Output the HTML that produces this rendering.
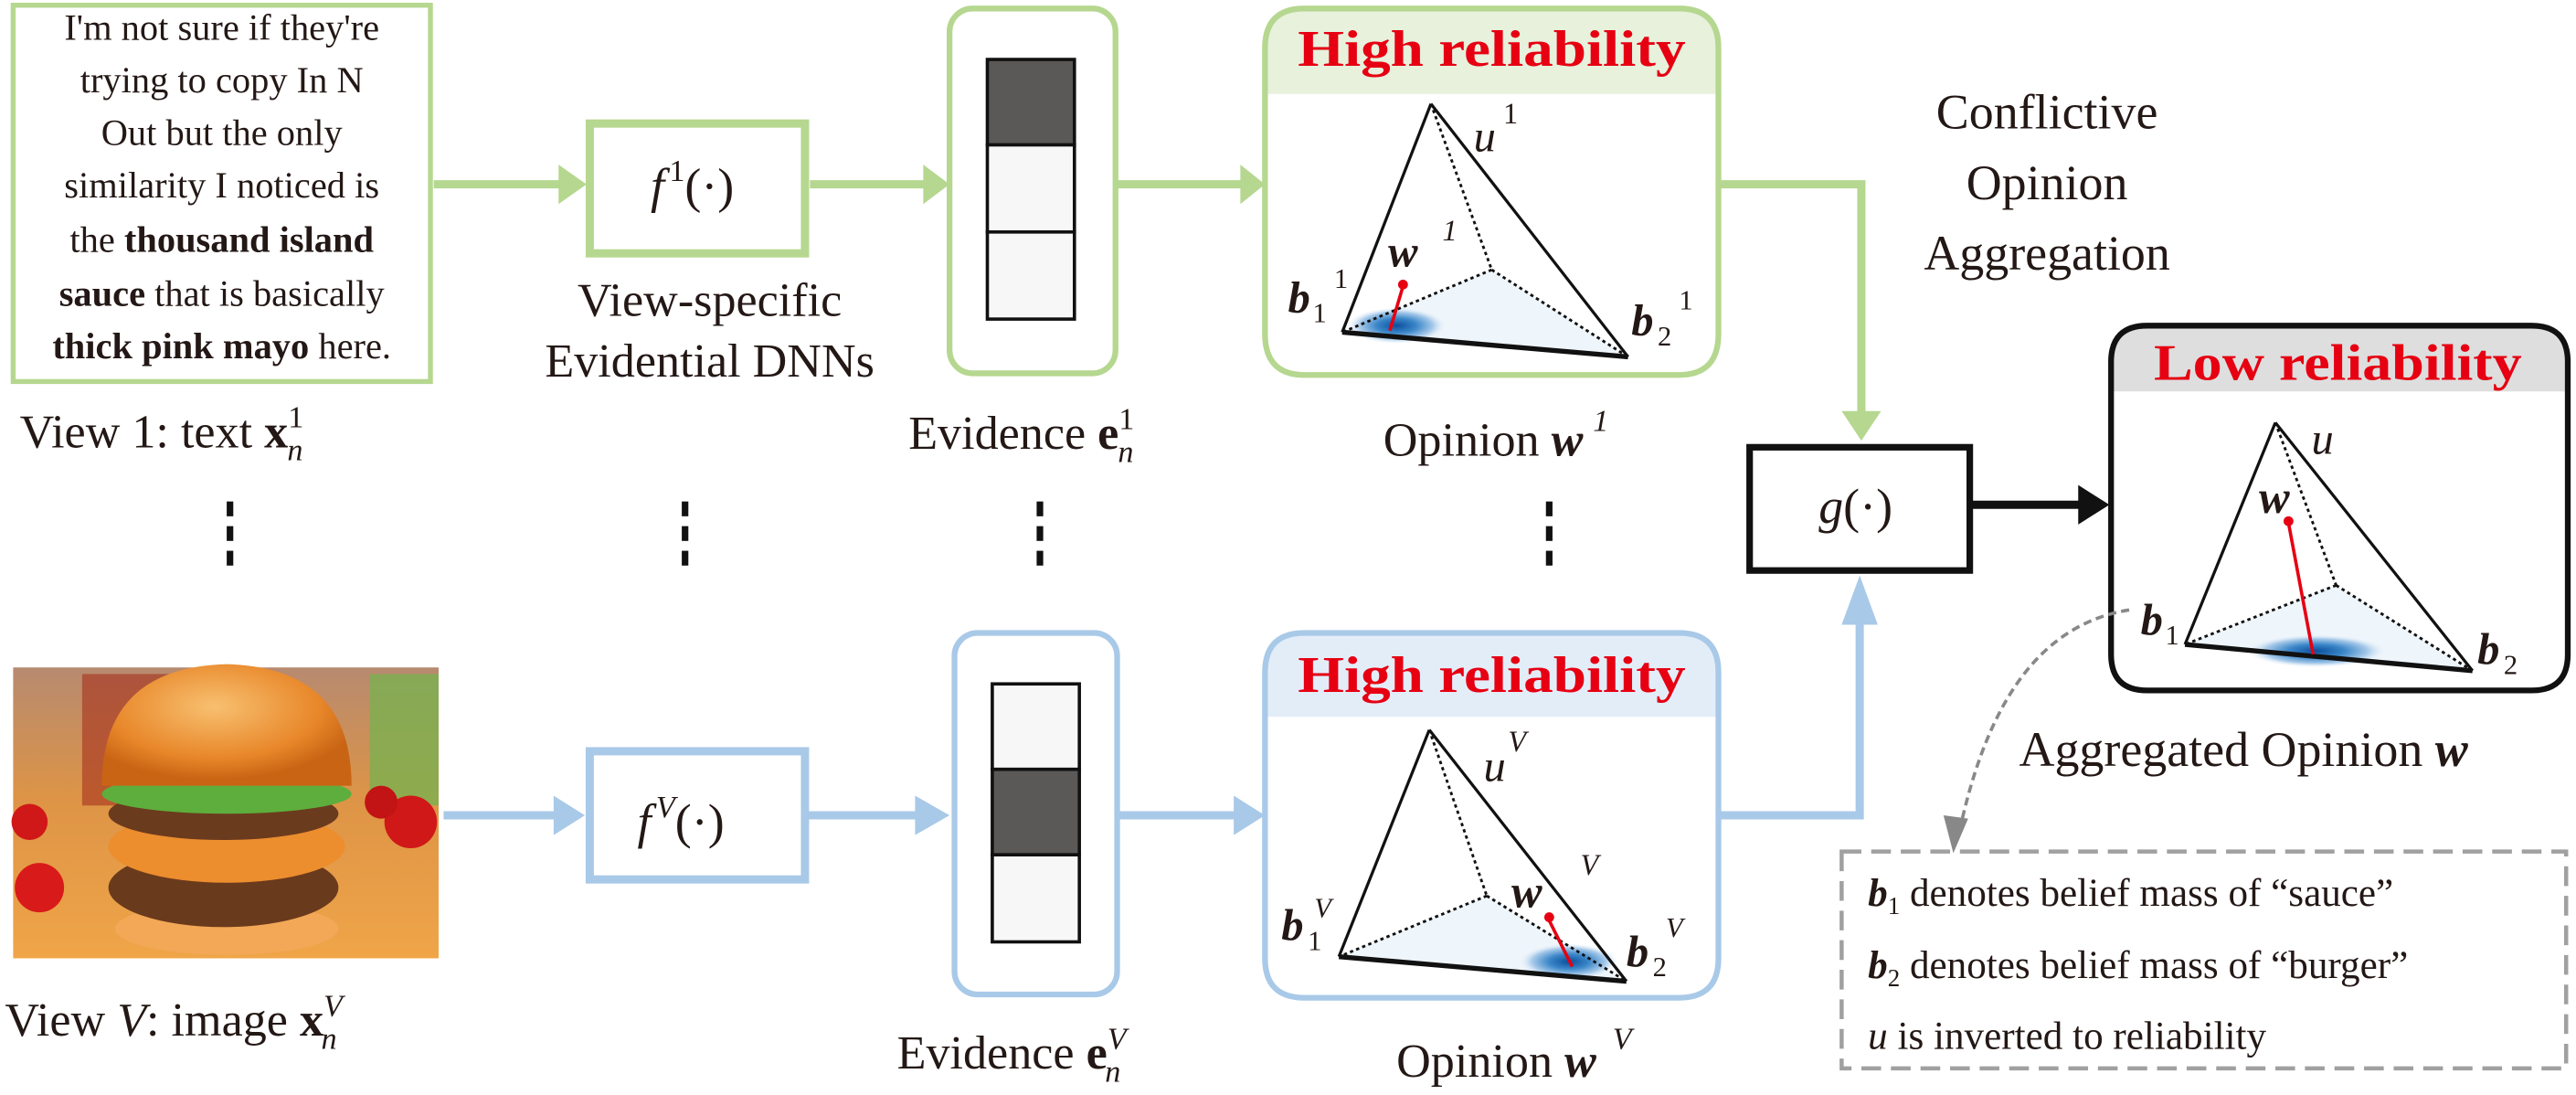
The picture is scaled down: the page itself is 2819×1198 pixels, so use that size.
<!DOCTYPE html>
<html><head><meta charset="utf-8"><style>
html,body{margin:0;padding:0;background:#fff;}
svg{display:block;}
svg text{font-family:"Liberation Serif","Times New Roman","DejaVu Serif",serif;fill:#231815;}
.it{font-style:italic;}
</style></head><body>
<svg width="2819" height="1198" viewBox="0 0 1568 666" xmlns="http://www.w3.org/2000/svg" font-family="Liberation Serif, Times New Roman, serif">
<defs>
<radialGradient id="blob" cx="0.5" cy="0.5" r="0.5">
<stop offset="0" stop-color="#0b4f9c"/><stop offset="0.4" stop-color="#3a86c8"/><stop offset="0.75" stop-color="#a9cbea"/><stop offset="1" stop-color="#eaf3fb" stop-opacity="0"/>
</radialGradient>
<radialGradient id="bun" cx="0.45" cy="0.35" r="0.6">
<stop offset="0" stop-color="#f8c070"/><stop offset="0.7" stop-color="#e8872a"/><stop offset="1" stop-color="#c96414"/>
</radialGradient>
<linearGradient id="bg" x1="0" y1="0" x2="0" y2="1">
<stop offset="0" stop-color="#b78a70"/><stop offset="0.45" stop-color="#dd9446"/><stop offset="1" stop-color="#f0a548"/>
</linearGradient>
</defs>
<g font-family="Liberation Serif, Times New Roman, serif">

<!-- Text box view 1 -->
<rect x="8" y="3" width="254" height="229" fill="#fff" stroke="#b5d78f" stroke-width="3"/>
<g font-size="22.5" text-anchor="middle">
<text x="135" y="24">I'm not sure if they're</text>
<text x="135" y="56">trying to copy In N</text>
<text x="135" y="88">Out but the only</text>
<text x="135" y="120">similarity I noticed is</text>
<text x="135" y="153">the <tspan font-weight="bold">thousand island</tspan></text>
<text x="135" y="186"><tspan font-weight="bold">sauce</tspan> that is basically</text>
<text x="135" y="218"><tspan font-weight="bold">thick pink mayo</tspan> here.</text>
</g>
<text x="12" y="272" font-size="29">View 1: text <tspan font-weight="bold">x</tspan><tspan font-size="19" dy="-12">1</tspan><tspan class="it" font-size="19" dx="-10" dy="20">n</tspan></text>

<!-- green arrows -->
<g stroke="#b5d78f" stroke-width="5" fill="#b5d78f">
<line x1="264" y1="112" x2="345" y2="112"/>
<polygon points="340,100 357,112 340,124" stroke="none"/>
<line x1="493" y1="112" x2="565" y2="112"/>
<polygon points="562,100 578,112 562,124" stroke="none"/>
<line x1="680" y1="112" x2="758" y2="112"/>
<polygon points="755,100 770,112 755,124" stroke="none"/>
<polyline points="1046,112 1133,112 1133,252" fill="none"/>
<polygon points="1121,250 1133,268 1145,250" stroke="none"/>
</g>
<rect x="359" y="75" width="131" height="79" fill="#fff" stroke="#b5d78f" stroke-width="5"/>
<text x="396" y="123" font-size="30"><tspan class="it">f</tspan><tspan font-size="19" dx="3" dy="-13">1</tspan><tspan font-size="30" dy="13">(·)</tspan></text>
<g font-size="29" text-anchor="middle">
<text x="432" y="192">View-specific</text>
<text x="432" y="229">Evidential DNNs</text>
</g>

<!-- evidence 1 -->
<rect x="578" y="5" width="101" height="222" rx="14" fill="#fff" stroke="#b5d78f" stroke-width="3.5"/>
<rect x="601" y="36" width="53" height="52" fill="#5a5958" stroke="#111" stroke-width="2"/>
<rect x="601" y="88" width="53" height="53" fill="#f6f7f6" stroke="#111" stroke-width="2"/>
<rect x="601" y="141" width="53" height="53" fill="#f6f7f6" stroke="#111" stroke-width="2"/>
<text x="553" y="273" font-size="29">Evidence <tspan font-weight="bold">e</tspan><tspan font-size="19" dy="-12">1</tspan><tspan class="it" font-size="19" dx="-10" dy="20">n</tspan></text>

<!-- high reliability 1 -->
<path d="M794,5 H1022 Q1046,5 1046,29 V203 Q1046,228 1022,228 H794 Q770,228 770,203 V29 Q770,5 794,5 Z" fill="#fff"/>
<path d="M794,5 H1022 Q1046,5 1046,29 V57 H770 V29 Q770,5 794,5 Z" fill="#e7f1dc"/>
<path d="M794,5 H1022 Q1046,5 1046,29 V203 Q1046,228 1022,228 H794 Q770,228 770,203 V29 Q770,5 794,5 Z" fill="none" stroke="#b5d78f" stroke-width="3.5"/>
<text x="908" y="40" font-size="31" font-weight="bold" text-anchor="middle" style="fill:#e60012" textLength="236" lengthAdjust="spacingAndGlyphs">High reliability</text>
<polygon points="817,202 908,164 991,217" fill="#eef5fb"/>
<ellipse cx="850" cy="198" rx="30" ry="11" fill="url(#blob)"/>
<g stroke="#111" fill="none">
<line x1="871" y1="63" x2="817" y2="202" stroke-width="1.8"/>
<line x1="871" y1="63" x2="991" y2="217" stroke-width="1.8"/>
<line x1="817" y1="202" x2="991" y2="217" stroke-width="3"/>
<g stroke-dasharray="2,2" stroke-width="1.6">
<line x1="871" y1="63" x2="908" y2="164"/>
<line x1="908" y1="164" x2="817" y2="202"/>
<line x1="908" y1="164" x2="991" y2="217"/>
</g>
</g>
<line x1="854" y1="174" x2="846" y2="201" stroke="#e60012" stroke-width="2"/>
<circle cx="854" cy="173" r="3" fill="#e60012"/>
<text x="897" y="92" font-size="27" class="it">u</text><text x="915" y="75" font-size="18">1</text>
<text x="845" y="162" font-size="27" class="it" font-weight="bold">w</text><text x="878" y="146" font-size="18" class="it">1</text>
<text x="784" y="190" font-size="27" class="it" font-weight="bold">b</text><text x="799" y="196" font-size="17">1</text><text x="812" y="175" font-size="17">1</text>
<text x="993" y="204" font-size="27" class="it" font-weight="bold">b</text><text x="1009" y="210" font-size="17">2</text><text x="1022" y="188" font-size="17">1</text>
<text x="842" y="277" font-size="29">Opinion <tspan class="it" font-weight="bold">w</tspan><tspan class="it" font-size="19" dx="6" dy="-15">1</tspan></text>

<!-- conflictive -->
<g font-size="30" text-anchor="middle">
<text x="1246" y="78">Conflictive</text>
<text x="1246" y="121">Opinion</text>
<text x="1246" y="164">Aggregation</text>
</g>

<!-- vertical dots -->
<g fill="#111">
<rect x="138" y="305" width="4" height="9"/><rect x="138" y="320" width="4" height="9"/><rect x="138" y="335" width="4" height="9"/>
<rect x="415" y="305" width="4" height="9"/><rect x="415" y="320" width="4" height="9"/><rect x="415" y="335" width="4" height="9"/>
<rect x="631" y="305" width="4" height="9"/><rect x="631" y="320" width="4" height="9"/><rect x="631" y="335" width="4" height="9"/>
<rect x="941" y="305" width="4" height="9"/><rect x="941" y="320" width="4" height="9"/><rect x="941" y="335" width="4" height="9"/>
</g>

<!-- g box -->
<rect x="1065" y="272" width="134" height="75" fill="#fff" stroke="#111" stroke-width="4"/>
<text x="1107" y="318" font-size="30"><tspan class="it">g</tspan>(·)</text>
<line x1="1199" y1="307" x2="1268" y2="307" stroke="#111" stroke-width="5"/>
<polygon points="1265,295 1284,307 1265,319" fill="#111"/>

<!-- low reliability -->
<path d="M1307,198 H1541 Q1563,198 1563,220 V398 Q1563,420 1541,420 H1307 Q1285,420 1285,398 V220 Q1285,198 1307,198 Z" fill="#fff"/>
<path d="M1307,198 H1541 Q1563,198 1563,220 V238 H1285 V220 Q1285,198 1307,198 Z" fill="#dedede"/>
<path d="M1307,198 H1541 Q1563,198 1563,220 V398 Q1563,420 1541,420 H1307 Q1285,420 1285,398 V220 Q1285,198 1307,198 Z" fill="none" stroke="#111" stroke-width="3.5"/>
<text x="1423" y="231" font-size="31" font-weight="bold" text-anchor="middle" style="fill:#e60012" textLength="224" lengthAdjust="spacingAndGlyphs">Low reliability</text>
<polygon points="1330,392 1422,356 1505,408" fill="#eef5fb"/>
<ellipse cx="1410" cy="396" rx="42" ry="10" fill="url(#blob)"/>
<g stroke="#111" fill="none">
<line x1="1385" y1="257" x2="1330" y2="392" stroke-width="1.8"/>
<line x1="1385" y1="257" x2="1505" y2="408" stroke-width="1.8"/>
<line x1="1330" y1="392" x2="1505" y2="408" stroke-width="3"/>
<g stroke-dasharray="2,2" stroke-width="1.6">
<line x1="1385" y1="257" x2="1422" y2="356"/>
<line x1="1422" y1="356" x2="1330" y2="392"/>
<line x1="1422" y1="356" x2="1505" y2="408"/>
</g>
</g>
<line x1="1393" y1="318" x2="1408" y2="398" stroke="#e60012" stroke-width="2"/>
<circle cx="1393" cy="317" r="3" fill="#e60012"/>
<text x="1407" y="276" font-size="27" class="it">u</text>
<text x="1375" y="312" font-size="28" class="it" font-weight="bold">w</text>
<text x="1303" y="386" font-size="27" class="it" font-weight="bold">b</text><text x="1318" y="392" font-size="17">1</text>
<text x="1508" y="404" font-size="27" class="it" font-weight="bold">b</text><text x="1524" y="410" font-size="17">2</text>
<text x="1229" y="466" font-size="30">Aggregated Opinion <tspan class="it" font-weight="bold">w</tspan></text>

<!-- dashed curve -->
<path d="M1296,371 C1240,380 1210,430 1194,500" fill="none" stroke="#888" stroke-width="2" stroke-dasharray="5,3"/>
<polygon points="1183,496 1189,519 1198,498" fill="#888"/>
<rect x="1121" y="518" width="441" height="132" fill="none" stroke="#a0a0a0" stroke-width="2.5" stroke-dasharray="12,6"/>
<g font-size="24">
<text x="1137" y="551"><tspan class="it" font-weight="bold">b</tspan><tspan font-size="15" dy="5">1</tspan><tspan dy="-5"> denotes belief mass of “sauce”</tspan></text>
<text x="1137" y="595"><tspan class="it" font-weight="bold">b</tspan><tspan font-size="15" dy="5">2</tspan><tspan dy="-5"> denotes belief mass of “burger”</tspan></text>
<text x="1137" y="638"><tspan class="it">u</tspan> is inverted to reliability</text>
</g>

<!-- burger image -->
<g>
<rect x="8" y="406" width="259" height="177" fill="url(#bg)"/>
<rect x="50" y="410" width="55" height="80" fill="#a5301c" opacity="0.6"/>
<rect x="225" y="410" width="42" height="80" fill="#7ab050" opacity="0.8"/>
<circle cx="18" cy="500" r="11" fill="#d01818"/>
<circle cx="24" cy="540" r="15" fill="#d81a1a"/>
<circle cx="250" cy="500" r="16" fill="#d01818"/>
<circle cx="232" cy="488" r="10" fill="#c21414"/>
<ellipse cx="138" cy="565" rx="68" ry="16" fill="#f2a856"/>
<ellipse cx="136" cy="540" rx="70" ry="24" fill="#6a3a1c"/>
<ellipse cx="138" cy="515" rx="72" ry="22" fill="#ec8d2e"/>
<ellipse cx="136" cy="495" rx="70" ry="16" fill="#6b3b1e"/>
<ellipse cx="138" cy="483" rx="76" ry="12" fill="#5dae3c"/>
<path d="M62,478 Q62,406 138,404 Q214,406 214,478 Z" fill="url(#bun)"/>
</g>
<text x="3" y="630" font-size="29">View <tspan class="it">V</tspan>: image <tspan font-weight="bold">x</tspan><tspan font-size="19" class="it" dy="-12">V</tspan><tspan class="it" font-size="19" dx="-13" dy="20">n</tspan></text>

<!-- blue arrows -->
<g stroke="#a9c9e8" stroke-width="5" fill="#a9c9e8">
<line x1="270" y1="496" x2="345" y2="496"/>
<polygon points="337,484 356,496 337,508" stroke="none"/>
<line x1="492" y1="496" x2="565" y2="496"/>
<polygon points="557,484 578,496 557,508" stroke="none"/>
<line x1="680" y1="496" x2="758" y2="496"/>
<polygon points="751,484 770,496 751,508" stroke="none"/>
<polyline points="1046,496 1132,496 1132,375" fill="none"/>
<polygon points="1121,380 1132,350 1143,380" stroke="none"/>
</g>
<rect x="359" y="457" width="131" height="78" fill="#fff" stroke="#a9c9e8" stroke-width="5"/>
<text x="388" y="510" font-size="30"><tspan class="it">f</tspan><tspan class="it" font-size="19" dx="3" dy="-13">V</tspan><tspan font-size="30" dy="13">(·)</tspan></text>

<!-- evidence V -->
<rect x="581" y="385" width="99" height="220" rx="14" fill="#fff" stroke="#a9c9e8" stroke-width="3.5"/>
<rect x="604" y="416" width="53" height="52" fill="#f6f7f6" stroke="#111" stroke-width="2"/>
<rect x="604" y="468" width="53" height="52" fill="#5a5958" stroke="#111" stroke-width="2"/>
<rect x="604" y="520" width="53" height="53" fill="#f6f7f6" stroke="#111" stroke-width="2"/>
<text x="546" y="650" font-size="29">Evidence <tspan font-weight="bold">e</tspan><tspan font-size="19" class="it" dy="-12">V</tspan><tspan class="it" font-size="19" dx="-13" dy="20">n</tspan></text>

<!-- high reliability V -->
<path d="M794,385 H1022 Q1046,385 1046,409 V583 Q1046,607 1022,607 H794 Q770,607 770,583 V409 Q770,385 794,385 Z" fill="#fff"/>
<path d="M794,385 H1022 Q1046,385 1046,409 V436 H770 V409 Q770,385 794,385 Z" fill="#e3edf8"/>
<path d="M794,385 H1022 Q1046,385 1046,409 V583 Q1046,607 1022,607 H794 Q770,607 770,583 V409 Q770,385 794,385 Z" fill="none" stroke="#a9c9e8" stroke-width="3.5"/>
<text x="908" y="421" font-size="31" font-weight="bold" text-anchor="middle" style="fill:#e60012" textLength="236" lengthAdjust="spacingAndGlyphs">High reliability</text>
<polygon points="815,582 905,545 990,597" fill="#eef5fb"/>
<ellipse cx="955" cy="585" rx="30" ry="11" fill="url(#blob)"/>
<g stroke="#111" fill="none">
<line x1="870" y1="444" x2="815" y2="582" stroke-width="1.8"/>
<line x1="870" y1="444" x2="990" y2="597" stroke-width="1.8"/>
<line x1="815" y1="582" x2="990" y2="597" stroke-width="3"/>
<g stroke-dasharray="2,2" stroke-width="1.6">
<line x1="870" y1="444" x2="905" y2="545"/>
<line x1="905" y1="545" x2="815" y2="582"/>
<line x1="905" y1="545" x2="990" y2="597"/>
</g>
</g>
<line x1="943" y1="560" x2="957" y2="588" stroke="#e60012" stroke-width="2"/>
<circle cx="943" cy="558" r="3" fill="#e60012"/>
<text x="903" y="475" font-size="27" class="it">u</text><text x="918" y="457" font-size="18" class="it">V</text>
<text x="920" y="552" font-size="28" class="it" font-weight="bold">w</text><text x="962" y="532" font-size="18" class="it">V</text>
<text x="780" y="572" font-size="27" class="it" font-weight="bold">b</text><text x="796" y="578" font-size="17">1</text><text x="800" y="558" font-size="17" class="it">V</text>
<text x="990" y="588" font-size="27" class="it" font-weight="bold">b</text><text x="1006" y="594" font-size="17">2</text><text x="1014" y="570" font-size="17" class="it">V</text>
<text x="850" y="655" font-size="29">Opinion <tspan class="it" font-weight="bold">w</tspan><tspan class="it" font-size="19" dx="10" dy="-17">V</tspan></text>
</g>
</svg>
</body></html>
